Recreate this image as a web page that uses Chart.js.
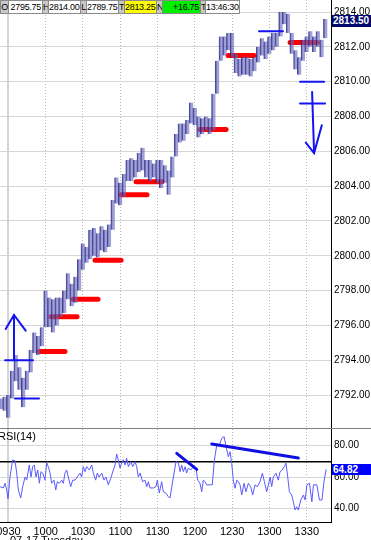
<!DOCTYPE html>
<html>
<head>
<meta charset="utf-8">
<script src="https://cdn.jsdelivr.net/npm/chart.js@4.4.1/dist/chart.umd.min.js"></script>
<style>
  body { margin: 0; background: #fff; overflow: hidden; }
  #wrap { position: relative; width: 371px; height: 540px; overflow: hidden; background: #fff;
    font-family: "Liberation Sans", Arial, sans-serif; }
  canvas { position: absolute; left: 0; }
  #price { top: 0; }
  #rsi { top: 429px; }
  #sep { position: absolute; left: 0; top: 428px; width: 371px; height: 1px; background: #7f7f7f; }
  .hb { position: absolute; top: 0; height: 14px; line-height: 12px; font-size: 9px; letter-spacing: -0.3px;
    box-sizing: border-box; border: 1px solid #8a8a8a; text-align: right; padding-right: 1px; color: #000;
    background: #fff; white-space: nowrap; overflow: hidden; }
  .hl { background: #c8c8c8; text-align: center; padding: 0; }
  .badge { position: absolute; left: 332px; width: 39px; color: #fff; font-size: 10px; font-weight: bold;
    padding-left: 1px; box-sizing: border-box; white-space: nowrap; }
  #rsiLabel { position: absolute; left: -2px; top: 430px; font-size: 11px; color: #000; }
  #dateLabel { position: absolute; left: 10px; top: 534px; font-size: 11px; color: #000; }
</style>
</head>
<body>
<div id="wrap">
  <canvas id="price" width="371" height="428"></canvas>
  <div id="sep"></div>
  <canvas id="rsi" width="371" height="111"></canvas>

  <div class="hb hl" style="left:0;width:9px">O</div>
  <div class="hb" style="left:8px;width:35px">2795.75</div>
  <div class="hb hl" style="left:42px;width:7px">H</div>
  <div class="hb" style="left:48px;width:33px">2814.00</div>
  <div class="hb hl" style="left:80px;width:7px">L</div>
  <div class="hb" style="left:86px;width:33px">2789.75</div>
  <div class="hb hl" style="left:118px;width:7px">T</div>
  <div class="hb" style="left:124px;width:33px;background:#ffff00">2813.25</div>
  <div class="hb hl" style="left:156px;width:7px">N</div>
  <div class="hb" style="left:162px;width:39px;background:#00ee00">+16.75</div>
  <div class="hb hl" style="left:200px;width:6px;letter-spacing:-1px">TT</div>
  <div class="hb" style="left:205px;width:35px">13:46:30</div>

  <div class="badge" style="top:15px;height:12px;line-height:12px;background:#000a6e">2813.50</div>
  <div class="badge" style="top:464px;height:11px;line-height:11px;background:#0000ff">64.82</div>
  <div id="rsiLabel">RSI(14)</div>
  <div id="dateLabel">07-17 Tuesday</div>
</div>
<script>
// minutes after 09:00
const xMin = 23.24;
const xMax = 289.5;
const timeTicks = [30, 60, 90, 120, 150, 180, 210, 240, 270];
const timeLabels = ["0930", "1000", "1030", "1100", "1130", "1200", "1230", "1300", "1330"];

const priceTicks = [2792, 2794, 2796, 2798, 2800, 2802, 2804, 2806, 2808, 2810, 2812, 2814];
const rsiTicks = [40, 60, 70, 80];

// 3 minute bars
const barMinutes = [24, 27, 30, 33, 36, 39, 42, 45, 48, 51, 54, 57, 60, 63, 66, 69, 72, 75, 78, 81, 84, 87,
  90, 93, 96, 99, 102, 105, 108, 111, 114, 117, 120, 123, 126, 129, 132, 135, 138, 141, 144, 147, 150, 153,
  156, 159, 162, 165, 168, 171, 174, 177, 180, 183, 186, 189, 192, 195, 198, 201, 204, 207, 210, 213, 216,
  219, 222, 225, 228, 231, 234, 237, 240, 243, 246, 249, 252, 255, 258, 261, 264, 267, 270, 273, 276, 279,
  282, 285];
const barLows = [2791.2, 2791.1, 2790.7, 2791.8, 2792.8, 2792.3, 2791.3, 2792.3, 2793.3, 2794.4, 2794.3,
  2794.8, 2795.9, 2795.9, 2795.6, 2796.0, 2796.5, 2796.7, 2797.5, 2797.1, 2797.3, 2798.0, 2799.2, 2799.6,
  2799.8, 2800.0, 2799.9, 2800.3, 2800.2, 2800.5, 2801.5, 2803.0, 2802.9, 2803.4, 2804.3, 2804.3, 2804.5,
  2804.8, 2804.9, 2804.5, 2804.3, 2804.5, 2804.2, 2803.9, 2804.2, 2803.5, 2804.5, 2805.7, 2806.5, 2806.6,
  2807.0, 2807.6, 2807.5, 2806.8, 2807.0, 2807.2, 2807.0, 2807.2, 2809.3, 2811.2, 2811.5, 2811.8, 2811.4,
  2810.5, 2810.3, 2810.4, 2810.4, 2810.3, 2810.6, 2811.1, 2811.5, 2811.3, 2811.6, 2811.8, 2812.0, 2812.6,
  2813.3, 2812.8, 2811.6, 2810.7, 2810.4, 2811.2, 2811.7, 2812.0, 2811.7, 2812.0, 2811.4, 2812.5];
const barHighs = [2791.8, 2791.9, 2792.0, 2793.4, 2794.3, 2793.6, 2793.0, 2793.4, 2794.6, 2795.6, 2795.4,
  2795.9, 2798.0, 2797.6, 2797.5, 2797.6, 2797.6, 2798.0, 2799.0, 2798.4, 2798.8, 2799.8, 2800.7, 2800.5,
  2801.5, 2801.6, 2801.3, 2801.7, 2801.5, 2801.8, 2803.2, 2804.5, 2804.2, 2804.7, 2805.5, 2805.6, 2805.5,
  2805.9, 2806.2, 2805.5, 2805.5, 2805.3, 2805.5, 2805.5, 2805.2, 2804.9, 2805.7, 2807.0, 2807.6, 2807.6,
  2807.8, 2808.8, 2808.5, 2808.0, 2807.9, 2808.0, 2807.9, 2809.3, 2811.2, 2812.6, 2812.6, 2812.8, 2812.8,
  2811.6, 2811.3, 2811.4, 2811.4, 2811.3, 2811.4, 2812.0, 2812.5, 2812.3, 2812.6, 2812.8, 2812.8, 2814.0,
  2814.0, 2813.9, 2812.8, 2811.8, 2811.4, 2812.4, 2812.6, 2812.9, 2812.6, 2812.9, 2812.4, 2813.6];

// red marker levels
const redLevels = [2794.5, 2796.5, 2797.5, 2799.75, 2803.5, 2804.25, 2807.25, 2811.5, 2812.25];
const redFrom = [54.6, 64.3, 82.0, 99.7, 120.6, 132.7, 184.1, 206.7, 256.6];
const redTo = [75.5, 85.2, 102.1, 120.6, 141.5, 153.6, 205.1, 227.6, 278.3];

// hand drawn blue lines on price pane [minute, price]
const blueMarks = [
  [[27.3, 2794.0], [49.8, 2794.0]],
  [[35.3, 2791.8], [54.6, 2791.8]],
  [[34.5, 2794.0], [34.5, 2796.6]],
  [[27.8, 2795.8], [34.5, 2796.6], [43.9, 2795.7]],
  [[231.6, 2812.9], [250.9, 2812.9]],
  [[264.6, 2810.0], [283.9, 2810.0]],
  [[264.6, 2808.75], [284.7, 2808.75]],
  [[274.3, 2809.4], [275.9, 2805.9]],
  [[269.2, 2806.5], [275.9, 2805.9], [282.1, 2807.5]]
];

const rsiMinutes = [23.2, 25.9, 27.3, 28.6, 29.7, 31.3, 33.4, 35.3, 36.7, 38.0, 39.9, 41.5, 43.4, 44.7, 46.8,
  48.2, 49.5, 50.8, 52.2, 53.6, 54.9, 56.2, 57.6, 59.4, 60.8, 62.1, 63.5, 64.8, 66.7, 68.1, 69.3, 71.0, 72.9,
  74.2, 75.5, 76.9, 78.2, 80.1, 81.7, 83.6, 85.4, 87.6, 88.9, 90.3, 91.6, 93.0, 95.1, 97.0, 98.3, 100.2,
  101.5, 102.9, 105.1, 106.9, 108.5, 110.4, 112.3, 114.4, 115.8, 117.1, 118.4, 119.8, 121.1, 122.4, 123.8,
  125.1, 126.5, 128.4, 130.0, 131.9, 133.2, 134.5, 135.9, 138.0, 139.9, 141.3, 142.6, 143.9, 146.6, 148.7,
  149.8, 151.4, 153.3, 154.6, 156.6, 158.6, 160.0, 162.7, 164.8, 166.7, 168.1, 169.4, 170.7, 172.1, 173.4,
  174.7, 176.7, 178.8, 180.9, 182.3, 184.1, 185.5, 186.8, 188.2, 189.5, 192.2, 194.0, 195.7, 197.6, 199.7,
  201.6, 203.5, 205.1, 206.9, 208.3, 209.6, 210.9, 212.3, 213.7, 215.0, 216.3, 217.7, 219.5, 221.1, 223.0,
  224.9, 226.5, 228.4, 230.2, 232.4, 234.3, 235.9, 237.8, 239.1, 240.5, 241.8, 243.1, 245.3, 247.1, 248.5,
  250.3, 251.9, 253.3, 254.7, 256.0, 257.9, 259.2, 260.6, 261.9, 263.2, 265.2, 267.3, 268.7, 270.1, 272.2,
  274.1, 275.4, 278.1, 280.2, 282.2, 284.0, 285.6];
const rsiValues = [53.8, 53, 56, 51.7, 46, 60, 70.9, 70.4, 62.5, 51.7, 46.6, 53.8, 60, 58, 67.7, 60, 66.6,
  67.7, 60, 64.5, 56, 63.4, 62.5, 58, 69, 66.6, 62.5, 56, 58, 51.7, 57, 56, 58, 56, 62.5, 64.5, 60, 53.8, 58,
  58, 60, 62.5, 60, 66.6, 63.4, 66.6, 64.5, 67.7, 62.5, 58, 62.5, 60, 62.5, 58, 60, 55, 59, 64.5, 67.7, 74.7,
  70.9, 65.7, 69, 71, 67.7, 72, 66.6, 69.8, 66.6, 69.8, 66.6, 60, 62.5, 57, 58, 53.8, 57, 53, 53, 53.8, 58,
  49.8, 57, 50.6, 49.8, 47.4, 46.6, 60, 69.8, 69, 63.4, 67.7, 63.4, 66.6, 62.5, 65.7, 64.5, 66.6, 65.7, 58,
  56, 50.6, 58, 57, 55, 55, 55, 70.9, 80.4, 80.4, 84.7, 85.8, 79.4, 73, 76.2, 68.8, 58, 52.8, 58, 57, 55,
  48.5, 56, 50.6, 56, 53.8, 48.5, 55, 53.8, 57, 62.4, 57, 50.6, 55, 60, 53.8, 60, 62.4, 58, 63.4, 64.5, 66.6,
  68.8, 60, 50.6, 48.5, 44.2, 38.9, 41, 38.9, 45.3, 48.5, 45.3, 55, 56, 44.2, 55, 55, 45.3, 45.3, 58, 64.82];

// blue lines on the rsi pane
const rsiMarks = [
  [[165.4, 75.1], [181.5, 64.9]],
  [[193.6, 81.1], [263.2, 72.1]]
];

const axisFont = { family: "'Liberation Sans', Arial, sans-serif", size: 10 };

function xScale(showLabels) {
  return {
    type: "linear",
    min: xMin,
    max: xMax,
    offset: false,
    grid: {
      offset: false,
      drawTicks: false,
      color: (ctx) => (ctx.tick && ctx.tick.value === 30 ? "#d4d4d4" : "#b8b8b8"),
      lineWidth: (ctx) => (ctx.tick && ctx.tick.value === 30 ? 2 : 1),
    },
    border: {
      display: showLabels,
      color: "#000",
      dash: (ctx) => (ctx.tick && ctx.tick.value === 30 ? [] : [1, 2]),
    },
    ticks: {
      display: showLabels,
      color: "#000",
      padding: 3,
      maxRotation: 0,
      font: { family: axisFont.family, size: 11 },
      callback: (v) => {
        const i = timeTicks.indexOf(v);
        return i >= 0 ? timeLabels[i] : "";
      },
    },
    afterBuildTicks: (s) => {
      s.ticks = timeTicks.map((v) => ({ value: v }));
    },
    afterFit: (s) => {
      s.height = showLabels ? 18 : 0;
      s.paddingLeft = 0;
      s.paddingRight = 0;
    },
  };
}

function yScale(min, max, ticks, gridColor, gridWidth, label) {
  return {
    position: "right",
    min: min,
    max: max,
    grid: { drawTicks: false, color: gridColor, lineWidth: gridWidth },
    border: { display: true, color: "#000", width: 1 },
    ticks: { color: "#000", padding: 3, font: axisFont, callback: label },
    afterBuildTicks: (s) => {
      s.ticks = ticks.map((v) => ({ value: v }));
    },
    afterFit: (s) => {
      s.width = 40;
      s.paddingTop = 0;
      s.paddingBottom = 0;
    },
  };
}

function lineSet(points, color, width, order) {
  return {
    type: "line",
    data: points.map((p) => ({ x: p[0], y: p[1] })),
    borderColor: color,
    borderWidth: width,
    borderCapStyle: "round",
    pointRadius: 0,
    fill: false,
    tension: 0,
    order: order,
  };
}

const priceSets = [];
redLevels.forEach((lvl, i) => {
  priceSets.push(lineSet([[redFrom[i], lvl], [redTo[i], lvl]], "#ff0000", 5, 5));
});
priceSets.push({
  type: "bar",
  data: barMinutes.map((m, i) => ({ x: m, y: [barLows[i], barHighs[i]] })),
  backgroundColor: "rgba(104, 104, 192, 0.62)",
  borderColor: "rgba(30, 30, 120, 0.8)",
  borderWidth: { left: 1, right: 0, top: 0, bottom: 0 },
  borderSkipped: false,
  barThickness: 4,
  order: 2,
});
blueMarks.forEach((mk) => priceSets.push(lineSet(mk, "#1414f0", 2, 0)));

new Chart(document.getElementById("price"), {
  type: "bar",
  data: { datasets: priceSets },
  options: {
    responsive: false,
    animation: false,
    events: [],
    layout: { padding: 0 },
    plugins: { legend: { display: false }, tooltip: { enabled: false } },
    scales: {
      x: xScale(false),
      y: yScale(2790.11, 2814.69, priceTicks, "#d6d6d6", 1, (v) => v.toFixed(2)),
    },
  },
});

const rsiSets = [
  {
    type: "line",
    data: rsiMinutes.map((m, i) => ({ x: m, y: rsiValues[i] })),
    borderColor: "#5a5aff",
    borderWidth: 1,
    pointRadius: 0,
    fill: false,
    tension: 0,
    order: 2,
  },
];
rsiMarks.forEach((mk) => rsiSets.push(lineSet(mk, "#1010e0", 3, 0)));

new Chart(document.getElementById("rsi"), {
  type: "line",
  data: { datasets: rsiSets },
  options: {
    responsive: false,
    animation: false,
    events: [],
    layout: { padding: 0 },
    plugins: { legend: { display: false }, tooltip: { enabled: false } },
    scales: {
      x: xScale(true),
      y: yScale(
        31.25,
        90.67,
        rsiTicks,
        (ctx) => (ctx.tick && ctx.tick.value === 70 ? "#000" : "#d6d6d6"),
        (ctx) => (ctx.tick && ctx.tick.value === 70 ? 1.5 : 1),
        (v) => (v === 70 ? "" : v.toFixed(2))
      ),
    },
  },
});
</script>
</body>
</html>
